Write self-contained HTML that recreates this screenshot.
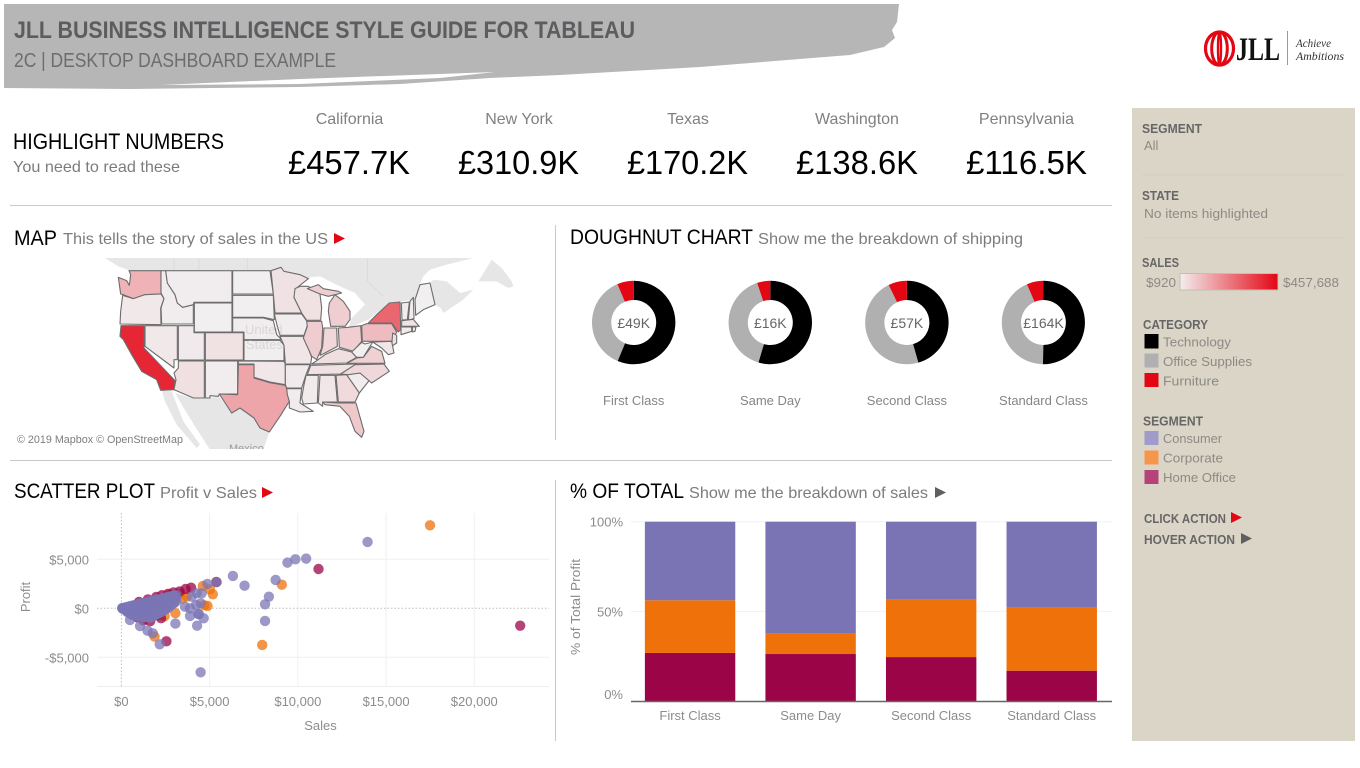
<!DOCTYPE html>
<html lang="en">
<head>
<meta charset="utf-8">
<title>JLL Business Intelligence Style Guide for Tableau</title>
<style>
html,body{margin:0;padding:0;background:#fff;width:1360px;height:768px;overflow:hidden}
svg{display:block;font-family:"Liberation Sans",sans-serif}
.h{fill:#000;font-size:21px}
.s{fill:#7c7c7c;font-size:16px}
.a{fill:#8c8c8c;font-size:13px}
.p1{fill:#666;font-size:13px;font-weight:bold}
.p2{fill:#8b8a84;font-size:13px}
</style>
</head>
<body>
<svg id="page" xmlns="http://www.w3.org/2000/svg" width="1360" height="768" viewBox="0 0 1360 768">
<rect width="1360" height="768" fill="#fff"/>

<g>
<polygon fill="#b6b6b7" points="4,4 899,4 897,22 892,30 895,38 884,47 850,55 700,67 560,75 490,78 400,84 300,87 130,89 4,88"/>
<polygon fill="#fff" points="160,85 300,79 495,72 440,78 300,84"/>
<text x="14" y="38" font-size="24" font-weight="bold" fill="#5d5d5f" textLength="621" lengthAdjust="spacingAndGlyphs">JLL BUSINESS INTELLIGENCE STYLE GUIDE FOR TABLEAU</text>
<text x="14" y="67" font-size="20" fill="#6d6d6e" textLength="322" lengthAdjust="spacingAndGlyphs">2C | DESKTOP DASHBOARD EXAMPLE</text>
</g>

<g>
<g fill="none" stroke="#e30613">
<ellipse cx="1219.5" cy="48.5" rx="14" ry="16.5" stroke-width="3.2"/>
<ellipse cx="1219.5" cy="48.5" rx="7.8" ry="16.5" stroke-width="3"/>
<ellipse cx="1219.5" cy="48.5" rx="1.5" ry="16.5" stroke-width="2.4"/>
</g>
<text x="1236" y="60" font-family="'Liberation Serif',serif" font-size="33" font-weight="bold" fill="#111" textLength="44" lengthAdjust="spacingAndGlyphs">JLL</text>
<line x1="1287.5" y1="31" x2="1287.5" y2="65" stroke="#999" stroke-width="1"/>
<text x="1296" y="47" font-family="'Liberation Serif',serif" font-style="italic" font-size="12" fill="#333" textLength="35" lengthAdjust="spacingAndGlyphs">Achieve</text>
<text x="1296" y="60" font-family="'Liberation Serif',serif" font-style="italic" font-size="12" fill="#333" textLength="48" lengthAdjust="spacingAndGlyphs">Ambitions</text>
</g>

<g>
<text x="13" y="149" font-size="22" fill="#000" textLength="211" lengthAdjust="spacingAndGlyphs">HIGHLIGHT NUMBERS</text>
<text x="13" y="172" font-size="16" fill="#7c7c7c" textLength="167" lengthAdjust="spacingAndGlyphs">You need to read these</text>
<g text-anchor="middle" font-size="16" fill="#808080">
<text x="349.5" y="124">California</text>
<text x="519" y="124">New York</text>
<text x="688" y="124">Texas</text>
<text x="857" y="124">Washington</text>
<text x="1026.5" y="124">Pennsylvania</text>
</g>
<g font-size="33" fill="#000">
<text x="288" y="174" textLength="122" lengthAdjust="spacingAndGlyphs">£457.7K</text>
<text x="458" y="174" textLength="121" lengthAdjust="spacingAndGlyphs">£310.9K</text>
<text x="627" y="174" textLength="121" lengthAdjust="spacingAndGlyphs">£170.2K</text>
<text x="796" y="174" textLength="122" lengthAdjust="spacingAndGlyphs">£138.6K</text>
<text x="966" y="174" textLength="121" lengthAdjust="spacingAndGlyphs">£116.5K</text>
</g>
</g>

<g stroke="#c9c9c9" stroke-width="1">
<line x1="10" y1="205.5" x2="1112" y2="205.5"/>
<line x1="10" y1="460.5" x2="1112" y2="460.5"/>
<line x1="555.5" y1="225" x2="555.5" y2="440"/>
<line x1="555.5" y1="480" x2="555.5" y2="741"/>
</g>

<g>
<text x="14" y="245" class="h" textLength="43" lengthAdjust="spacingAndGlyphs">MAP</text>
<text x="63" y="244" class="s" textLength="265" lengthAdjust="spacingAndGlyphs">This tells the story of sales in the US</text>
<polygon fill="#e30613" points="334,233 345,238.5 334,244"/>
<text x="570" y="244" class="h" textLength="183" lengthAdjust="spacingAndGlyphs">DOUGHNUT CHART</text>
<text x="758" y="244" class="s" textLength="265" lengthAdjust="spacingAndGlyphs">Show me the breakdown of shipping</text>
<text x="14" y="498" class="h" textLength="141" lengthAdjust="spacingAndGlyphs">SCATTER PLOT</text>
<text x="160" y="498" class="s" textLength="97" lengthAdjust="spacingAndGlyphs">Profit v Sales</text>
<polygon fill="#e30613" points="262,487 273,492.5 262,498"/>
<text x="570" y="498" class="h" textLength="114" lengthAdjust="spacingAndGlyphs">% OF TOTAL</text>
<text x="689" y="498" class="s" textLength="239" lengthAdjust="spacingAndGlyphs">Show me the breakdown of sales</text>
<polygon fill="#606060" points="935,487 946,492.5 935,498"/>
</g>

<g id="map">
<g transform="translate(100,258) scale(.33333)" fill="#e6e6e6">
<polygon points="15,0 630,0 630,62 555,40 545,28 512,36 85,36 55,25"/>
<polygon points="185,397 215,400 250,490 300,560 290,570 230,500 195,430"/>
<polygon points="225,405 280,422 316,422 358,415 395,465 420,450 462,480 508,522 490,575 330,575 285,505 245,440"/>
<g stroke="#d6d6d6" stroke-width="2" fill="none">
<line x1="222" y1="0" x2="222" y2="36"/>
<line x1="297" y1="0" x2="297" y2="36"/>
<line x1="442" y1="0" x2="442" y2="36"/>
</g>
</g>
<g transform="translate(300,258) scale(.33333)" fill="#e6e6e6">
<polygon points="-5,0 520,0 440,20 390,35 370,55 360,78 345,125 268,135 205,185 145,210 155,180 195,140 165,105 120,85 60,55 -5,60"/>
<polygon points="400,65 440,70 480,105 520,95 490,125 430,165 422,150 405,140 390,75"/>
<polygon points="535,70 560,30 575,5 605,30 635,70 640,85 625,90 590,70"/>
<polyline fill="none" stroke="#d6d6d6" stroke-width="2" points="203,0 203,70 250,115"/>
</g>
<g id="statesWest" transform="translate(100,258) scale(.33333)"></g>
<g id="statesEast" transform="translate(300,258) scale(.33333)"></g>
<text x="245" y="334" font-size="13" fill="#b9b4b4" opacity=".4">United</text>
<text x="246" y="349" font-size="13" fill="#b9b4b4" opacity=".4">States</text>
<text x="229" y="452" font-size="11" fill="#9a9a9a">Mexico</text>
<rect x="100" y="449" width="430" height="10" fill="#fff"/>
<text x="17" y="443" font-size="11" fill="#7d7d7d" textLength="166" lengthAdjust="spacingAndGlyphs">© 2019 Mapbox © OpenStreetMap</text>
</g>

<g id="doughnuts"></g>
<g id="scatter"></g>
<g id="bars"></g>

<g>
<defs>
<linearGradient id="salesGrad" x1="0" x2="1" y1="0" y2="0"><stop offset="0" stop-color="#f3eeee"/><stop offset="1" stop-color="#e30613"/></linearGradient>
</defs>
<rect x="1132" y="108" width="223" height="633" fill="#dbd5c7"/>
<text x="1142" y="133" class="p1" textLength="60" lengthAdjust="spacingAndGlyphs">SEGMENT</text>
<text x="1144" y="150" class="p2">All</text>
<line x1="1142" y1="175" x2="1345" y2="175" stroke="#d4cebf"/>
<text x="1142" y="200" class="p1" textLength="37" lengthAdjust="spacingAndGlyphs">STATE</text>
<text x="1144" y="218" class="p2" textLength="124" lengthAdjust="spacingAndGlyphs">No items highlighted</text>
<line x1="1142" y1="238" x2="1345" y2="238" stroke="#d4cebf"/>
<text x="1142" y="267" class="p1" textLength="37" lengthAdjust="spacingAndGlyphs">SALES</text>
<text x="1146" y="287" class="p2" textLength="30" lengthAdjust="spacingAndGlyphs">$920</text>
<rect x="1180" y="273.5" width="98" height="16.5" fill="url(#salesGrad)" stroke="#c6bfb1" stroke-width="1"/>
<text x="1283" y="287" class="p2" textLength="56" lengthAdjust="spacingAndGlyphs">$457,688</text>
<text x="1143" y="329" class="p1" textLength="65" lengthAdjust="spacingAndGlyphs">CATEGORY</text>
<rect x="1144.5" y="334" width="14" height="14.5" fill="#000"/>
<text x="1163" y="346.5" class="p2" textLength="68" lengthAdjust="spacingAndGlyphs">Technology</text>
<rect x="1144.5" y="353.5" width="14" height="14" fill="#b0b0b3"/>
<text x="1163" y="366" class="p2" textLength="89" lengthAdjust="spacingAndGlyphs">Office Supplies</text>
<rect x="1144.5" y="373" width="14" height="14" fill="#e30613"/>
<text x="1163" y="385.5" class="p2" textLength="56" lengthAdjust="spacingAndGlyphs">Furniture</text>
<text x="1143" y="425.5" class="p1" textLength="60" lengthAdjust="spacingAndGlyphs">SEGMENT</text>
<rect x="1144.5" y="431" width="14" height="14" fill="#9f9bcb"/>
<text x="1163" y="443" class="p2" textLength="59" lengthAdjust="spacingAndGlyphs">Consumer</text>
<rect x="1144.5" y="450.5" width="14" height="14" fill="#f5964a"/>
<text x="1163" y="462.5" class="p2" textLength="60" lengthAdjust="spacingAndGlyphs">Corporate</text>
<rect x="1144.5" y="470" width="14" height="14" fill="#b54378"/>
<text x="1163" y="482" class="p2" textLength="73" lengthAdjust="spacingAndGlyphs">Home Office</text>
<text x="1144" y="523" class="p1" textLength="82" lengthAdjust="spacingAndGlyphs">CLICK ACTION</text>
<polygon fill="#e30613" points="1231,512 1242,517.5 1231,523"/>
<text x="1144" y="544" class="p1" textLength="91" lengthAdjust="spacingAndGlyphs">HOVER ACTION</text>
<polygon fill="#606060" points="1241,533 1252,538.5 1241,544"/>
</g>
</svg>

<script>
/* ---------- Map data ---------- */
const stateCodes = ["WA","OR","CA","NV","ID","MT","WY","UT","CO","AZ","NM","ND","SD","NE","KS","OK","TX","MN","IA","MO","AR","LA","WI","IL","IN","MI","MIU","OH","KY","TN","MS","AL","GA","FL","SC","NC","VA","WV","PA","NY","VT","NH","ME","MA","CT","RI","NJ","MD"];
const stateSales = [138641,17431,457688,16729,4382,5589,1603,11220,32108,35282,4784,920,1316,7465,2914,19683,170188,29863,4580,22205,11678,9217,32115,80166,53555,76270,76270,78258,36592,30662,10771,19511,49096,89474,8482,55603,70637,1209,116512,310876,8929,7293,1271,28634,13384,22628,35764,23706];
const salesDomain = [920,457688];
const westShapes = {
WA:"87,38 183,38 183,108 135,110 100,122 75,112 62,108 55,58 80,68 88,82 92,50",
OR:"68,112 100,122 135,110 183,108 192,122 182,150 183,200 60,198 62,160",
CA:"63,203 132,203 132,270 225,368 222,395 182,397 170,365 125,340 95,290 70,245 60,235",
NV:"135,203 232,203 232,305 222,305 222,330 135,265",
ID:"183,38 197,38 202,75 225,110 232,135 248,148 280,140 280,198 185,198 183,150 192,122 183,105",
MT:"197,38 396,38 396,133 282,133 280,140 248,148 232,135 225,110 202,75",
WY:"283,135 396,135 396,222 283,222",
UT:"235,203 282,203 282,224 313,224 313,306 235,306",
CO:"316,224 430,224 430,306 316,306",
AZ:"235,309 313,309 313,420 280,420 222,395 228,365 222,345 235,330",
NM:"316,309 413,309 413,408 358,408 355,415 330,413 330,420 316,420",
ND:"398,38 510,38 520,108 398,108",
SD:"398,112 520,112 523,185 490,178 398,178",
NE:"398,180 490,180 520,188 530,230 545,245 432,245 432,222 398,222",
KS:"432,247 540,247 552,262 552,308 432,308",
OK:"415,309 552,310 556,318 556,380 510,372 462,358 462,318 415,318",
TX:"415,320 462,320 462,360 510,374 556,382 562,395 568,430 540,475 508,522 480,510 462,480 420,450 395,465 358,408 413,410",
MN:"513,38 543,28 552,40 600,50 625,62 590,90 582,118 605,165 525,165 520,108",
IA:"523,168 605,168 625,195 612,232 540,232 532,205",
MO:"540,235 612,235 635,298 632,318 556,318 552,262",
AR:"556,320 630,320 618,350 605,390 560,390 556,380",
LA:"560,392 605,392 600,435 640,460 600,462 568,450 568,430 562,410"
};
const eastShapes = {
WI:"-15,92 0,85 25,85 60,108 65,150 62,187 20,187 5,165 -18,118",
IL:"20,190 65,190 68,210 65,270 50,305 35,295 10,240 22,205",
IN:"72,210 110,210 112,265 75,285 60,292 68,265",
MI:"92,205 85,160 88,135 105,110 130,130 150,160 150,185 135,205",
MIU:"22,92 55,80 70,92 115,100 125,105 85,115 60,108",
OH:"115,210 145,208 182,203 185,250 160,280 118,268",
KY:"35,318 50,308 75,290 115,272 155,282 170,298 140,315",
TN:"32,322 170,318 122,348 22,350",
MS:"18,352 55,352 52,435 10,438 5,420 12,380",
AL:"60,352 105,352 112,432 68,432 68,445 55,435",
GA:"108,352 140,350 178,405 165,432 115,432",
FL:"68,432 112,435 168,435 192,520 185,538 165,520 148,475 120,445 75,440",
SC:"140,350 178,345 215,358 178,405",
NC:"122,348 165,320 252,318 268,340 215,375 180,345 145,350",
VA:"140,316 170,300 190,298 215,265 245,280 255,316",
WV:"155,282 185,253 195,258 218,252 190,298 170,298",
PA:"185,203 200,197 275,197 290,222 275,250 187,250",
NY:"205,195 230,170 268,135 300,132 302,215 295,222 275,195",
VT:"304,135 328,132 322,185 306,186",
NH:"330,130 340,118 342,182 325,186",
ME:"345,125 360,80 390,75 405,140 370,155 347,172",
MA:"305,188 340,184 358,205 305,205",
CT:"303,207 335,207 335,220 303,230",
RI:"337,207 348,207 345,220 337,222",
NJ:"278,225 290,232 290,255 275,265",
MD:"218,252 275,250 282,285 265,290 245,270"
};

/* ---------- Doughnut data ---------- */
const shipModes = ["First Class","Same Day","Second Class","Standard Class"];
const shipTotals = ["£49K","£16K","£57K","£164K"];
const technologyShare = [56.3,54.6,45.6,50.2];
const officeShare = [37.3,40.3,47.2,43.3];
const furnitureShare = [6.4,5.1,7.2,6.5];

/* ---------- Scatter data: [sales, profit] ---------- */
const scatterXTicks = [0,5000,10000,15000,20000];
const scatterYTicks = [5000,0,-5000];
const corporatePoints = [[17490,8470],[9090,2410],[7980,-3740],[1880,-2890],[4880,240],[5180,1430],[5020,1940],[4620,2280],[3060,-500],[4700,300],[2200,-700],[1900,-500],[3450,1000],[3300,1480],[2700,1380],[3700,1200],[1300,-1100],[2450,-800]];
const homeOfficePoints = [[22600,-1770],[11170,4010],[5380,2690],[2550,-3370],[3950,2100],[3640,1970],[3300,1720],[2950,1620],[2650,1480],[2300,1340],[1980,1160],[1500,900],[1000,650],[2250,-1010],[1630,-1320],[900,-920],[2000,-720],[1250,-1240]];
const consumerPoints = [[13950,6770],[10470,5070],[9860,5000],[9410,4660],[6320,3300],[6980,2310],[8740,2890],[8360,1190],[8140,410],[8140,-1290],[4490,-6530],[2170,-3670],[1780,-2550],[1480,-2280],[1054,-1806],[487,-1190],[4290,-1770],[3060,-1560],[4660,-1020],[3890,-780],[4390,-600],[4360,-580],[4230,340],[4495,510],[3888,0],[4266,1530],[4550,1530],[3985,1184],[3604,163],[4870,2480],[5400,2660],
[40,20],[60,-20],[110,30],[100,-60],[210,90],[200,-110],[205,-40],[310,125],[295,-60],[305,-240],[300,-330],[405,170],[390,60],[410,-110],[395,-290],[400,-440],[505,210],[490,5],[510,-200],[495,-400],[505,-560],[605,260],[595,120],[610,-90],[600,-300],[590,-520],[605,-650],[705,300],[695,60],[710,-180],[700,-420],[695,-700],[805,350],[790,190],[810,-50],[800,-310],[795,-590],[805,-730],[905,390],[895,110],[910,-170],[900,-450],[895,-760],[1005,440],[990,280],[1010,-20],[1000,-310],[995,-600],[1005,-790],[1105,480],[1095,170],[1110,-140],[1100,-450],[1095,-820],[1205,520],[1190,360],[1210,20],[1200,-290],[1195,-610],[1205,-850],[1305,560],[1295,220],[1310,-120],[1300,-460],[1295,-880],[1405,610],[1395,440],[1410,70],[1400,-280],[1395,-650],[1405,-910],[1505,650],[1495,280],[1510,-90],[1500,-460],[1495,-940],[1605,700],[1595,510],[1610,130],[1600,-260],[1595,-660],[1605,-930],[1705,740],[1695,340],[1710,-60],[1700,-460],[1695,-900],[1805,780],[1795,580],[1810,180],[1800,-220],[1795,-620],[1805,-810],[1905,830],[1895,400],[1910,-30],[1900,-380],[1895,-710],[2005,870],[1995,640],[2010,240],[2000,-140],[1995,-480],[2005,-610],[2105,910],[2095,480],[2110,50],[2100,-250],[2095,-520],[2205,950],[2195,720],[2210,350],[2200,-30],[2195,-420],[2305,1000],[2295,620],[2310,220],[2300,-100],[2295,-330],[2405,1040],[2395,820],[2410,440],[2400,60],[2395,-220],[2505,1090],[2495,760],[2510,360],[2500,100],[2495,-120],[2605,1140],[2595,900],[2610,560],[2600,220],[2595,-10],[2705,1180],[2695,850],[2710,500],[2700,150],[2805,1220],[2795,1000],[2810,680],[2800,300],[2905,1270],[2895,950],[2910,700],[2900,420],[3005,1310],[2995,1100],[3010,800],[3000,560],[3105,1350],[3095,1050],[3110,720]];

/* ---------- Stacked bar data (% of total profit) ---------- */
const barCategories = ["First Class","Same Day","Second Class","Standard Class"];
const homeOfficePct = [26.8,26.2,24.5,16.9];
const corporatePct = [29.4,11.3,32.0,35.1];
const consumerPct = [43.8,62.5,43.5,48.0];
const barYTicks = [100,50,0];

const NS = "http://www.w3.org/2000/svg";
function make(parent, tag, attrs, text){
  const el = document.createElementNS(NS, tag);
  for (const k in attrs) el.setAttribute(k, attrs[k]);
  if (text !== undefined) el.textContent = text;
  parent.appendChild(el);
  return el;
}

/* Map */
(function(){
  const west = document.getElementById("statesWest");
  const east = document.getElementById("statesEast");
  const t = v => (v - salesDomain[0]) / (salesDomain[1] - salesDomain[0]);
  const lerp = (a,b,f) => Math.round(a + (b - a) * f);
  stateCodes.forEach((code,i) => {
    const f = t(stateSales[i]);
    const fill = "rgb(" + lerp(241,230,f) + "," + lerp(239,38,f) + "," + lerp(240,52,f) + ")";
    const isWest = code in westShapes;
    const el = make(isWest ? west : east, "polygon", {points: isWest ? westShapes[code] : eastShapes[code], fill: fill, stroke: "#6c6c6c", "stroke-width": 1.1, "vector-effect": "non-scaling-stroke", "stroke-linejoin": "round"});
    
    
  });
})();

/* Doughnuts */
(function(){
  const g = document.getElementById("doughnuts");
  const centerX = i => 633.7 + i * 136.6;
  const cy = 322.5, R = 41.7, r = 22.5;
  const pt = (cx, rad, pct) => {
    const a = pct / 100 * 2 * Math.PI;
    return (cx + rad * Math.sin(a)).toFixed(2) + " " + (cy - rad * Math.cos(a)).toFixed(2);
  };
  const arc = (cx, s, e) => {
    const large = (e - s) > 50 ? 1 : 0;
    return "M" + pt(cx,R,s) + "A" + R + " " + R + " 0 " + large + " 1 " + pt(cx,R,e) + "L" + pt(cx,r,e) + "A" + r + " " + r + " 0 " + large + " 0 " + pt(cx,r,s) + "Z";
  };
  shipModes.forEach((mode,i) => {
    const cx = centerX(i);
    const total = technologyShare[i] + officeShare[i] + furnitureShare[i];
    const a = technologyShare[i] / total * 100;
    const b = a + officeShare[i] / total * 100;
    const slug = mode.toLowerCase().replace(/ /g,'-');
    const s1 = make(g, "path", {d: arc(cx,0,a), fill: "#000"});
    
    
    const s2 = make(g, "path", {d: arc(cx,a,b), fill: "#b0b0b1"});
    
    
    const s3 = make(g, "path", {d: arc(cx,b,100), fill: "#e30613"});
    
    
    const v = make(g, "text", {x: cx, y: 328, "text-anchor": "middle", "font-size": 14, fill: "#666"}, shipTotals[i]);
    
    
    const l = make(g, "text", {x: cx, y: 405, "text-anchor": "middle", "font-size": 13, fill: "#858585"}, mode);
    
    
  });
})();

/* Scatter */
(function(){
  const g = document.getElementById("scatter");
  const X = v => 121.4 + v * 0.017645;
  const Y = v => 608.3 - v * 0.0098;
  const money = v => (v < 0 ? "-$" : "$") + Math.abs(v).toString().replace(/\B(?=(\d{3})+$)/g, ",");
  scatterXTicks.forEach(v => {
    const line = make(g, "line", {x1: X(v), x2: X(v), y1: 513, y2: 686, stroke: v === 0 ? "#bdbdbd" : "#f0f0f0", "stroke-width": 1, "stroke-dasharray": v === 0 ? "1.5 2" : "none"});
    
    
    const lab = make(g, "text", {x: X(v), y: 706, "text-anchor": "middle", class: "a"}, money(v));
    
    
  });
  scatterYTicks.forEach(v => {
    const line = make(g, "line", {x1: 97, x2: 549, y1: Y(v), y2: Y(v), stroke: v === 0 ? "#bdbdbd" : "#f0f0f0", "stroke-width": 1, "stroke-dasharray": v === 0 ? "1.5 2" : "none"});
    
    
    const lab = make(g, "text", {x: 89, y: Y(v) + 5, "text-anchor": "end", class: "a"}, money(v));
    
    
  });
  const base = make(g, "line", {x1: 97, x2: 549, y1: 686.5, y2: 686.5, stroke: "#eeeeee"});
  
  
  const xt = make(g, "text", {x: 320.5, y: 730, "text-anchor": "middle", class: "a"}, "Sales");
  
  
  const yt = make(g, "text", {transform: "translate(30,597) rotate(-90)", "text-anchor": "middle", class: "a"}, "Profit");
  
  
  const draw = (pts, color, seg) => pts.forEach(p => {
    const c = make(g, "circle", {cx: X(p[0]), cy: Y(p[1]), r: 5.2, fill: color, "fill-opacity": .75});
    
    
  });
  draw(corporatePoints, "#ef7109", "corporate");
  draw(homeOfficePoints, "#9b0547", "home-office");
  draw(consumerPoints, "#7b75b5", "consumer");
})();

/* Stacked bars */
(function(){
  const g = document.getElementById("bars");
  const Y = v => 701 - v * 1.793;
  const left = 629.8, band = 120.55, barW = 90.4;
  barYTicks.forEach(v => {
    if (v !== 0) {
      const line = make(g, "line", {x1: 631, x2: 1112, y1: Y(v), y2: Y(v), stroke: "#f1f1f1"});
      
      
    }
    const lab = make(g, "text", {x: 623, y: Y(v) + (v === 0 ? -2 : 5), "text-anchor": "end", class: "a"}, v + "%");
    
    
  });
  const yt = make(g, "text", {transform: "translate(580,607) rotate(-90)", "text-anchor": "middle", "font-size": 12.5, fill: "#8c8c8c", textLength: 96, lengthAdjust: "spacingAndGlyphs"}, "% of Total Profit");
  
  
  barCategories.forEach((cat,i) => {
    const x = left + band * i + (band - barW) / 2;
    const slug = cat.toLowerCase().replace(/ /g,'-');
    let acc = 0;
    const h = homeOfficePct[i], c = corporatePct[i], k = consumerPct[i];
    const r1 = make(g, "rect", {x: x, width: barW, y: Y(acc + h), height: Y(acc) - Y(acc + h), fill: "#9b0547"});
    
    
    acc += h;
    const r2 = make(g, "rect", {x: x, width: barW, y: Y(acc + c), height: Y(acc) - Y(acc + c), fill: "#ef7109"});
    
    
    acc += c;
    const r3 = make(g, "rect", {x: x, width: barW, y: Y(acc + k), height: Y(acc) - Y(acc + k), fill: "#7a74b4"});
    
    
    const lab = make(g, "text", {x: x + barW / 2, y: 720, "text-anchor": "middle", class: "a"}, cat);
    
    
  });
  const axis = make(g, "line", {x1: 631, x2: 1112, y1: 701.5, y2: 701.5, stroke: "#666", "stroke-width": 1.6});
  
  
})();
</script>
</body>
</html>
